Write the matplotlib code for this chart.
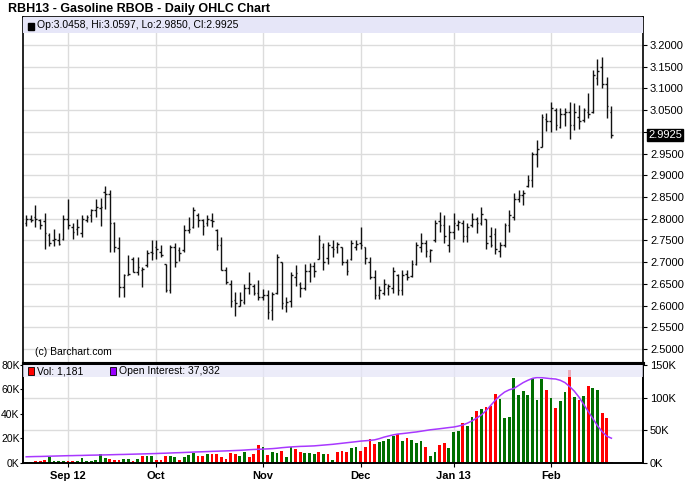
import numpy as np
import pandas as pd
import matplotlib
matplotlib.use('Agg')
import matplotlib.pyplot as plt
from matplotlib.patches import Rectangle
import matplotlib.transforms as mtransforms

plt.rcParams['font.family'] = ['Liberation Sans', 'DejaVu Sans']

#%% data (RBH13 daily)
holidays = ['2012-09-03', '2012-11-22', '2012-12-25', '2013-01-01', '2013-01-21', '2013-02-18']
dates = pd.bdate_range('2012-08-21', '2013-02-21')
dates = dates[~dates.isin(pd.to_datetime(holidays))]

high = [2.808, 2.809, 2.832, 2.800, 2.814, 2.768, 2.777, 2.766, 2.809, 2.846,
        2.789, 2.800, 2.808, 2.809, 2.823, 2.846, 2.848, 2.875, 2.865, 2.792,
        2.758, 2.673, 2.716, 2.712, 2.712, 2.689, 2.727, 2.750, 2.750, 2.739,
        2.696, 2.739, 2.743, 2.735, 2.785, 2.804, 2.827, 2.812, 2.800, 2.808,
        2.812, 2.777, 2.758, 2.689, 2.658, 2.631, 2.631, 2.650, 2.677, 2.650,
        2.658, 2.639, 2.635, 2.631, 2.718, 2.700, 2.620, 2.677, 2.693, 2.654,
        2.696, 2.698, 2.700, 2.762, 2.743, 2.746, 2.750, 2.746, 2.735, 2.708,
        2.750, 2.750, 2.781, 2.735, 2.712, 2.681, 2.646, 2.662, 2.650, 2.689,
        2.673, 2.681, 2.681, 2.704, 2.746, 2.766, 2.750, 2.731, 2.798, 2.816,
        2.808, 2.785, 2.812, 2.796, 2.796, 2.789, 2.812, 2.804, 2.827, 2.800,
        2.781, 2.779, 2.747, 2.789, 2.820, 2.860, 2.866, 2.866, 2.900, 2.954,
        2.981, 3.041, 3.044, 3.068, 3.054, 3.054, 3.054, 3.069, 3.066, 3.062,
        3.054, 3.089, 3.142, 3.167, 3.172, 3.126, 3.0597]
low = [2.783, 2.792, 2.781, 2.777, 2.730, 2.737, 2.737, 2.739, 2.750, 2.777,
       2.754, 2.762, 2.758, 2.792, 2.792, 2.804, 2.783, 2.823, 2.723, 2.723,
       2.620, 2.620, 2.671, 2.677, 2.670, 2.643, 2.689, 2.704, 2.708, 2.712,
       2.631, 2.630, 2.689, 2.702, 2.723, 2.766, 2.779, 2.781, 2.762, 2.783,
       2.781, 2.727, 2.681, 2.650, 2.597, 2.577, 2.598, 2.604, 2.627, 2.624,
       2.612, 2.612, 2.570, 2.566, 2.627, 2.593, 2.585, 2.597, 2.646, 2.620,
       2.635, 2.654, 2.666, 2.708, 2.681, 2.696, 2.712, 2.720, 2.693, 2.670,
       2.704, 2.727, 2.731, 2.696, 2.662, 2.616, 2.616, 2.624, 2.624, 2.630,
       2.624, 2.624, 2.658, 2.666, 2.693, 2.723, 2.712, 2.700, 2.746, 2.769,
       2.743, 2.723, 2.754, 2.773, 2.746, 2.746, 2.781, 2.766, 2.785, 2.731,
       2.735, 2.719, 2.712, 2.735, 2.770, 2.798, 2.839, 2.831, 2.872, 2.874,
       2.918, 2.964, 3.003, 3.000, 3.004, 3.008, 3.013, 2.983, 3.004, 3.006,
       3.023, 3.031, 3.043, 3.108, 3.102, 3.031, 2.9850]
opn = [2.790, 2.800, 2.805, 2.798, 2.795, 2.762, 2.750, 2.750, 2.754, 2.800,
       2.780, 2.777, 2.766, 2.796, 2.808, 2.819, 2.825, 2.862, 2.858, 2.789,
       2.733, 2.643, 2.671, 2.708, 2.677, 2.681, 2.693, 2.723, 2.735, 2.723,
       2.696, 2.635, 2.735, 2.727, 2.727, 2.775, 2.781, 2.808, 2.797, 2.790,
       2.797, 2.775, 2.740, 2.683, 2.650, 2.612, 2.600, 2.608, 2.640, 2.645,
       2.630, 2.620, 2.625, 2.590, 2.630, 2.700, 2.600, 2.610, 2.665, 2.650,
       2.640, 2.680, 2.690, 2.708, 2.735, 2.710, 2.735, 2.735, 2.735, 2.700,
       2.708, 2.735, 2.745, 2.735, 2.700, 2.665, 2.625, 2.630, 2.640, 2.640,
       2.670, 2.635, 2.672, 2.668, 2.695, 2.735, 2.745, 2.715, 2.750, 2.795,
       2.785, 2.740, 2.770, 2.785, 2.790, 2.760, 2.785, 2.800, 2.790, 2.800,
       2.760, 2.765, 2.725, 2.740, 2.785, 2.805, 2.845, 2.855, 2.875, 2.890,
       2.950, 2.966, 3.030, 3.025, 3.050, 3.012, 3.040, 3.045, 3.015, 3.035,
       3.028, 3.045, 3.045, 3.125, 3.150, 3.110, 3.0458]
close = [2.800, 2.796, 2.800, 2.785, 2.768, 2.745, 2.754, 2.742, 2.800, 2.785,
         2.770, 2.781, 2.800, 2.804, 2.819, 2.827, 2.827, 2.858, 2.789, 2.735,
         2.643, 2.670, 2.673, 2.677, 2.689, 2.685, 2.720, 2.720, 2.731, 2.716,
         2.635, 2.735, 2.700, 2.720, 2.773, 2.777, 2.820, 2.797, 2.783, 2.800,
         2.795, 2.740, 2.683, 2.654, 2.610, 2.605, 2.612, 2.640, 2.650, 2.630,
         2.620, 2.625, 2.585, 2.627, 2.712, 2.605, 2.608, 2.670, 2.675, 2.640,
         2.680, 2.690, 2.680, 2.750, 2.700, 2.740, 2.730, 2.742, 2.700, 2.680,
         2.745, 2.742, 2.740, 2.710, 2.665, 2.625, 2.635, 2.650, 2.645, 2.680,
         2.635, 2.670, 2.665, 2.695, 2.740, 2.745, 2.725, 2.728, 2.790, 2.785,
         2.760, 2.770, 2.790, 2.792, 2.760, 2.780, 2.800, 2.790, 2.810, 2.745,
         2.740, 2.730, 2.740, 2.785, 2.808, 2.845, 2.855, 2.860, 2.890, 2.950,
         2.960, 3.035, 3.025, 3.055, 3.015, 3.040, 3.045, 3.015, 3.045, 3.025,
         3.050, 3.040, 3.130, 3.140, 3.110, 3.060, 2.9925]

# volume and open interest in thousands
volume = [1.0, 1.1, 1.9, 1.4, 2.7, 4.7, 1.9, 1.9, 1.9, 1.9,
          1.9, 1.9, 4.4, 1.9, 1.9, 2.7, 7.4, 4.4, 3.6, 2.2,
          2.7, 3.6, 3.6, 1.9, 3.6, 6.0, 6.0, 6.0, 2.7, 2.7,
          5.5, 6.0, 5.2, 2.7, 5.2, 6.8, 8.2, 5.5, 5.5, 7.7,
          7.4, 7.1, 4.7, 3.3, 8.2, 7.4, 6.0, 9.3, 4.7, 7.1,
          14.8, 13.2, 6.8, 9.3, 8.5, 9.9, 4.7, 13.2, 11.5, 9.0,
          8.5, 8.2, 7.7, 8.8, 7.1, 7.1, 2.7, 9.0, 9.8, 9.3,
          12.0, 12.8, 9.8, 12.8, 19.3, 15.5, 16.8, 18.0, 19.3, 22.0,
          23.6, 18.0, 20.1, 18.8, 16.1, 18.3, 12.8, 6.0, 8.7, 14.7,
          16.1, 12.0, 25.5, 26.4, 32.4, 30.5, 37.8, 42.7, 44.1, 45.4,
          46.8, 56.3, 52.2, 36.5, 37.8, 69.1, 55.5, 58.8, 55.5, 69.6,
          51.4, 68.6, 59.6, 52.8, 44.6, 50.9, 57.7, 75.9, 53.6, 51.4,
          54.6, 62.8, 60.9, 59.6, 40.5, 36.5, 1.181]
vol_dir = ('GGRRRGGGGR' 'RGGGGGGGRR' 'RGGRGRGGRR' 'RGGRGGGRRG' 'RRRRRRGGRR'
           'RGRGGRGGRR' 'GGGRGRGRRR' 'GGRRRRGGGG' 'RGRGGGRGGR' 'RGGGRGGRGR'
           'RRGGGGGGGG' 'GGRGRGGRGR' 'GRGGRRR')
open_int = [9.5, 9.7, 9.9, 10.0, 10.2, 10.4, 10.6, 10.8, 11.0, 11.2,
            11.3, 11.5, 11.6, 11.8, 12.0, 12.1, 12.3, 12.4, 12.6, 12.8,
            13.0, 13.1, 13.3, 13.5, 13.7, 13.9, 14.1, 14.3, 14.5, 14.8,
            15.0, 15.3, 15.6, 15.8, 16.1, 16.4, 16.7, 17.0, 17.2, 17.5,
            17.8, 18.0, 18.3, 18.5, 18.8, 19.1, 19.4, 19.8, 20.3, 20.7,
            21.0, 21.3, 21.6, 22.0, 22.6, 23.4, 24.0, 24.6, 25.0, 25.4,
            25.6, 25.9, 26.2, 26.8, 27.4, 28.0, 28.6, 29.4, 30.2, 31.0,
            31.8, 32.6, 33.5, 34.0, 34.6, 35.4, 37.2, 39.5, 41.3, 43.0,
            44.3, 45.0, 45.8, 46.7, 47.5, 48.6, 49.7, 50.8, 51.6, 52.4,
            53.3, 54.2, 55.0, 56.4, 58.2, 61.0, 64.5, 68.8, 73.5, 80.0,
            88.0, 96.0, 103.0, 108.5, 112.0, 114.0, 118.5, 123.0, 126.5, 129.5,
            130.8, 130.5, 129.8, 129.0, 128.5, 126.5, 123.0, 117.0, 110.0, 101.0,
            90.0, 79.0, 68.0, 57.0, 48.0, 41.0, 37.932]

price_ticks = np.arange(2.5, 3.2001, 0.05)

#%% plot
idx = np.arange(len(dates))
months = dates.to_period('M')
month_start = [i for i in idx if i > 0 and months[i] != months[i - 1]]
month_lbl = []
for k, i in enumerate(month_start):
    d = dates[i]
    month_lbl.append(d.strftime('%b %y') if (k == 0 or d.month == 1) else d.strftime('%b'))

W, H = 688, 503
fig = plt.figure(figsize=(W / 100, H / 100), dpi=100)
fig.patch.set_facecolor('white')

x0, x1 = 23, 643
ax = fig.add_axes([x0 / W, 1 - 363 / H, (x1 - x0) / W, (363 - 17) / H])
axv = fig.add_axes([x0 / W, 1 - 463 / H, (x1 - x0) / W, (463 - 363) / H])

xlim = (-0.69, 132.8)
grid_c = '#dcdcdc'
VMAX, OIMAX = 81600, 153000

# price panel
ax.vlines(idx, low, high, color='#111111', lw=1.0)
ax.hlines(opn, idx - 0.36, idx, color='#111111', lw=1.0)
ax.hlines(close, idx, idx + 0.36, color='#111111', lw=1.0)
ax.set_xlim(*xlim)
ax.set_ylim(2.4677, 3.2645)
ax.set_xticks(month_start)
ax.set_xticklabels([])
ax.tick_params(axis='x', length=0)
ax.yaxis.tick_right()
ax.set_yticks(price_ticks)
ax.set_yticklabels(['' if abs(t - 3.0) < 1e-6 else '%.4f' % t for t in price_ticks], fontsize=8)
ax.tick_params(axis='y', direction='out', length=3, pad=2, width=0.8)
for t in price_ticks:
    ax.axhline(t, color=grid_c, lw=1, zorder=0)
for i in month_start:
    ax.axvline(i, color=grid_c, lw=1, zorder=0)
for s in ax.spines.values():
    s.set_linewidth(1.2)

ax.add_patch(Rectangle((0, 1 - 16 / 346), 1, 16 / 346, transform=ax.transAxes,
                       facecolor='#e6e6f8', edgecolor='none', zorder=3))
ax.add_patch(Rectangle((5 / 620, 1 - 12.5 / 346), 6 / 620, 6 / 346, transform=ax.transAxes,
                       facecolor='black', edgecolor='black', zorder=4))
ax.text(14 / 620, 1 - 8.5 / 346,
        'Op:%.4f, Hi:%.4f, Lo:%.4f, Cl:%.4f' % (opn[-1], high[-1], low[-1], close[-1]),
        transform=ax.transAxes, fontsize=7.5, va='center', ha='left', zorder=4)
ax.text(12 / 620, 11 / 346, '(c) Barchart.com', transform=ax.transAxes,
        fontsize=7.5, va='center', ha='left')

tr = mtransforms.blended_transform_factory(ax.transAxes, ax.transData)
ax.text(1.008, close[-1], '%.4f' % close[-1], transform=tr, fontsize=8, color='white',
        va='center', ha='left', clip_on=False,
        bbox=dict(boxstyle='square,pad=0.12', facecolor='black', edgecolor='black'))

# volume panel
vcol = ['#ff0000' if c == 'R' else '#006f00' for c in vol_dir]
axv.bar(idx, np.array(volume) * 1000, width=0.6, color=vcol, zorder=2)
axv.set_xlim(*xlim)
axv.set_ylim(0, VMAX)
axv.set_yticks([0, 20000, 40000, 60000, 80000])
axv.set_yticklabels(['0K', '20K', '40K', '60K', '80K'], fontsize=7.5)
axv.tick_params(axis='y', direction='out', length=2, pad=0.5, width=0.8)
axv.set_xticks(month_start)
axv.set_xticklabels(month_lbl, fontsize=8, fontweight='bold')
axv.tick_params(axis='x', direction='out', length=3, pad=3, width=0.8)
for i in month_start:
    axv.axvline(i, color=grid_c, lw=1, zorder=0)
# horizontal grid follows the open interest scale, kept behind the bars
for t in [50000, 100000]:
    axv.axhline(t / OIMAX * VMAX, color=grid_c, lw=1, zorder=0)

axo = axv.twinx()
axo.plot(idx, np.array(open_int) * 1000, color='#a838ff', lw=1.1, zorder=3)
axo.set_ylim(0, OIMAX)
axo.set_yticks([0, 50000, 100000, 150000])
axo.set_yticklabels(['0K', '50K', '100K', '150K'], fontsize=8)
axo.tick_params(axis='y', direction='out', length=3, pad=2, width=0.8)
axo.add_patch(Rectangle((0, 0.86), 1, 0.125, transform=axo.transAxes,
                        facecolor='#e6e6f8', edgecolor='none', alpha=0.75, zorder=4))
axo.add_patch(Rectangle((5 / 620, 0.885), 6 / 620, 0.075, transform=axo.transAxes,
                        facecolor='#ff0000', edgecolor='black', lw=0.6, zorder=5))
axo.text(14 / 620, 0.92, 'Vol: {:,}'.format(int(round(volume[-1] * 1000))),
         transform=axo.transAxes, fontsize=7.5, va='center', ha='left', zorder=5)
axo.add_patch(Rectangle((87 / 620, 0.885), 6 / 620, 0.075, transform=axo.transAxes,
                        facecolor='#9900ff', edgecolor='black', lw=0.6, zorder=5))
axo.text(96 / 620, 0.92, 'Open Interest: {:,}'.format(int(round(open_int[-1] * 1000))),
         transform=axo.transAxes, fontsize=7.5, va='center', ha='left', zorder=5)
for a in (axv, axo):
    for s in a.spines.values():
        s.set_linewidth(1.2)
    a.spines['top'].set_linewidth(2.2)

fig.text(8 / W, 1 - 9 / H, 'RBH13 - Gasoline RBOB - Daily OHLC Chart',
         fontsize=9, fontweight='bold', va='center', ha='left')

fig.savefig('out.png', dpi=100)
